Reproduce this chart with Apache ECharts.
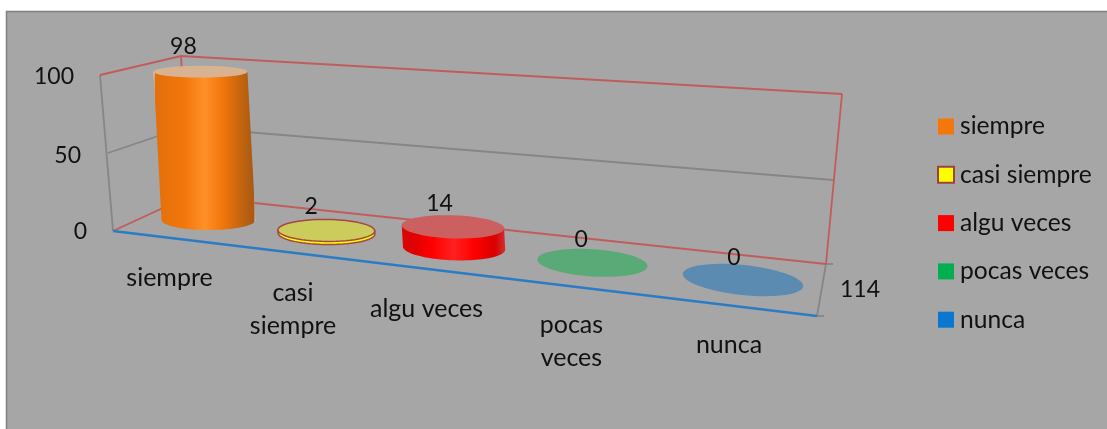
<!DOCTYPE html>
<html><head><meta charset="utf-8">
<script src="https://cdn.jsdelivr.net/npm/echarts@6/dist/echarts.min.js"></script>
<style>html,body{margin:0;padding:0;background:#fff}#c{width:1107px;height:429px}</style>
</head><body><div id="c"></div>
<script>
const categories = ['siempre','casi siempre','algu veces','pocas veces','nunca'];
const axisLabels = ['siempre','casi\nsiempre','algu veces','pocas\nveces','nunca'];
const values = [98,2,14,0,0];
const valueTicks = [0,50,100];
const depthLabel = '114';

const FONT_NUM = '23px Lato, "Open Sans", sans-serif';
const FONT_TXT = '25px Lato, "Open Sans", sans-serif';
const TXT = '#111';
const looks = [
 {cap:'#d9b391',stops:[[0,'#e0e0d8'],[.02,'#e2700c'],[.3,'#f2760a'],[.5,'#ff9028'],[.68,'#f2760a'],[.85,'#c5650f'],[.98,'#a85a14'],[1,'#d0c0b0']],legend:{color:'#f5760b'}},
 {cap:'#cccc5c',stops:[[0,'#ffff00'],[1,'#ffff00']],stroke:'#a64545',legend:{color:'#ffff00',borderColor:'#a04040',borderWidth:2}},
 {cap:'#cc6060',stops:[[0,'#d80808'],[.12,'#e00000'],[.3,'#ff0000'],[.5,'#ff2020'],[.7,'#ff0000'],[.9,'#d80000'],[1,'#d03030']],legend:{color:'#ff0000'}},
 {cap:'#5aaa78',stops:[[0,'#00b050'],[1,'#00b050']],legend:{color:'#00b050'}},
 {cap:'#5b8bb0',stops:[[0,'#0070c0'],[1,'#0070c0']],legend:{color:'#0a78d0'}}
];

// perspective of the floor row that the cylinders stand on
const KEY = 0.85, ROW = {x0:208.5,y0:220,x1:743,y1:281};
function place(api,i,v){
  const a=api.coord([0,0]), b=api.coord([categories.length-1,0]), p=api.coord([i,0]), q=api.coord([i,v]);
  const t=(p[0]-a[0])/(b[0]-a[0]);
  const w=t*KEY/(1+(KEY-1)*t);
  const bx=ROW.x0+w*(ROW.x1-ROW.x0), by=ROW.y0+w*(ROW.y1-ROW.y0)+(v===0?-1:0);
  const h=(p[1]-q[1])*0.97;
  return {w,bx,by,tx:bx-0.082*v,ty:by-h,
    rx:47+13.5*Math.pow(w,1.5), ryB:10+5*w, ryT:(10+5*w)*(1-0.42*v/100), rot:6*Math.pow(w,1.5)*Math.PI/180};
}
function ell(cx,cy,rx,ry,r,a0,a1,n){
  const o=[];
  for(let k=0;k<=n;k++){const th=a0+(a1-a0)*k/n;
    o.push([cx+rx*Math.cos(th)*Math.cos(r)-ry*Math.sin(th)*Math.sin(r),
            cy+rx*Math.cos(th)*Math.sin(r)+ry*Math.sin(th)*Math.cos(r)]);}
  return o;
}
function txt(s,x,y,align,va,font){
  return {type:'text',style:{text:s,x,y,font,fill:TXT,align,verticalAlign:va,lineHeight:33}};
}
function renderCylinder(idx){
  return function(params,api){
    const v=values[idx], L=looks[idx], g=place(api,idx,v), kids=[];
    const stroke=L.stroke?{stroke:L.stroke,lineWidth:1.5}:{};
    if(v>0){
      const pts=ell(g.tx,g.ty,g.rx,g.ryT,g.rot,Math.PI,2*Math.PI,1)
        .concat(ell(g.bx,g.by,g.rx,g.ryB,g.rot,0,Math.PI,36));
      kids.push({type:'polygon',shape:{points:pts},style:Object.assign({
        fill:new echarts.graphic.LinearGradient(0,0,1,0,L.stops.map(s=>({offset:s[0],color:s[1]})))},stroke)});
    }
    kids.push({type:'polygon',shape:{points:ell(g.tx,g.ty,g.rx,g.ryT,g.rot,0,2*Math.PI,60)},
      style:Object.assign({fill:L.cap},stroke)});
    kids.push(txt(String(v),g.tx-17+8*g.w,g.ty-25+3*g.w,'center','middle',FONT_NUM));
    kids.push(txt(axisLabels[idx],g.bx-39+25*g.w,g.by+41+7*g.w,'center','top',FONT_TXT));
    return {type:'group',children:kids};
  };
}
const FRAME = {
  red:'#c25c5c', gray:'#868686', blue:'#2a7cc4',
  wall:[[[100,75],[181,56],[842,94]],[[181,56],[189,196]],[[842,94],[826,264]],[[113,231],[189,196],[826,264]]],
  grid:[[[108,153],[185,127],[833,180]]],
  side:[[[100,75],[113,231]],[[826,264],[817,316]],[[826,264],[833,264]],[[817,316],[824,316]]],
  front:[[113,231],[817,316]]
};
function renderFrame(){
  const kids=[];
  const pl=(pts,c,w)=>kids.push({type:'polyline',shape:{points:pts},style:{stroke:c,lineWidth:w,fill:'none'}});
  FRAME.grid.forEach(p=>pl(p,FRAME.gray,1.8));
  FRAME.side.forEach(p=>pl(p,FRAME.gray,1.8));
  FRAME.wall.forEach(p=>pl(p,FRAME.red,1.8));
  pl(FRAME.front,FRAME.blue,2.5);
  kids.push(txt(depthLabel,860,290,'center','middle',FONT_NUM));
  return {type:'group',children:kids};
}
const series=[{type:'custom',name:'frame',coordinateSystem:'cartesian2d',data:[[0,0]],clip:false,silent:true,renderItem:renderFrame,z:1}];
categories.forEach((c,i)=>series.push({type:'custom',name:c,coordinateSystem:'cartesian2d',clip:false,silent:true,z:2,
  data:[[i,values[i]]],renderItem:renderCylinder(i),itemStyle:looks[i].legend}));

const chart=echarts.init(document.getElementById('c'),null,{renderer:'canvas'});
chart.setOption({
  animation:false,
  graphic:[{type:'rect',z:-10,silent:true,shape:{x:6.5,y:11.5,width:1200,height:500},style:{fill:'#a6a6a6',stroke:'#808080',lineWidth:1.5}}],
  grid:{left:113,top:75,width:704,height:156,containLabel:false},
  xAxis:{type:'category',data:categories,axisLine:{show:false},axisTick:{show:false},axisLabel:{show:false},splitLine:{show:false}},
  yAxis:{type:'value',min:valueTicks[0],max:valueTicks[2],interval:valueTicks[1],axisLine:{show:false},axisTick:{show:false},splitLine:{show:false},
    axisLabel:{margin:26,color:TXT,fontFamily:'Lato',fontSize:23,formatter:v=>`{p${v}|${v}}`,
      rich:{p0:{padding:[2,0,0,0]},p50:{padding:[6,6,0,0]},p100:{padding:[4,13,0,0]}}}},
  legend:{orient:'vertical',left:937,top:114,padding:0,itemWidth:16,itemHeight:16,itemGap:23.3,icon:'rect',selectedMode:false,
    textStyle:{color:TXT,fontFamily:'Lato',fontSize:24.6,padding:[0,0,0,1]},
    data:categories.map((c,i)=>({name:c,icon:'rect',itemStyle:looks[i].legend}))},
  series
});
</script></body></html>
